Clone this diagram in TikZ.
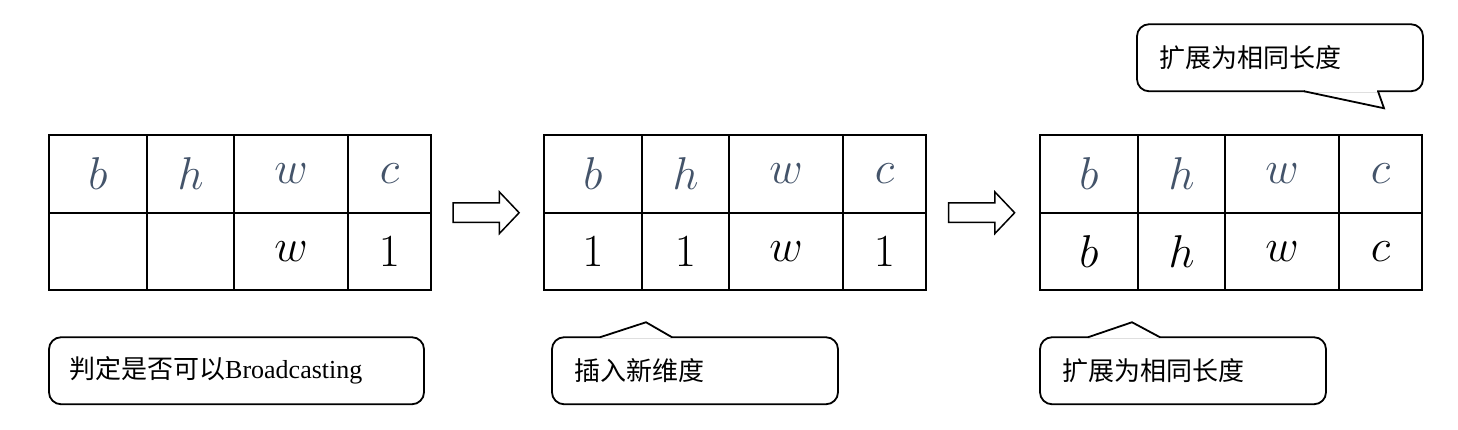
\RequirePackage{fix-cm}
\documentclass[tikz,border=0pt]{standalone}
\usepackage{fontspec}
\newfontfamily\cjk{Noto Sans CJK SC}
\newfontfamily\tnr{Liberation Serif}
\usetikzlibrary{positioning,calc,shapes.arrows}
\definecolor{hdblue}{HTML}{44546A}
\tikzset{
  cell/.style={draw, line width=1.8pt, outer sep=0pt, inner sep=0pt, minimum height=77.5pt, font=\fontsize{46}{54}\selectfont},
  hd/.style={cell, text=hdblue},
  fat arrow/.style={single arrow, draw, line width=1.5pt, minimum height=66pt, minimum width=40pt, single arrow head extend=11pt, single arrow tip angle=93, inner sep=0pt},
  note/.style={draw, line width=1.8pt, rounded corners=12pt, minimum height=67pt, outer sep=0pt, inner sep=0pt},
  note text/.style={anchor=west, inner sep=0pt, font=\fontsize{26}{30}\selectfont\cjk}
}

\begin{document}
\begin{tikzpicture}[x=1pt, y=-1pt]
        \useasboundingbox (0,0) rectangle (1458,430);

        % first table
        \node[hd, minimum width=98pt] (A1) at (98,174) {$b$};
        \node[hd, minimum width=87pt, right=0pt of A1] (A2) {$h$};
        \node[hd, minimum width=114pt, right=0pt of A2] (A3) {$w$};
        \node[hd, minimum width=83pt, right=0pt of A3] (A4) {$c$};
        \node[cell, minimum width=98pt, below=0pt of A1] (a1) {};
        \node[cell, minimum width=87pt, below=0pt of A2] (a2) {};
        \node[cell, minimum width=114pt, below=0pt of A3] (a3) {$w$};
        \node[cell, minimum width=83pt, below=0pt of A4] (a4) {$1$};

        % second table
        \node[hd, minimum width=98pt] (B1) at (593,174) {$b$};
        \node[hd, minimum width=87pt, right=0pt of B1] (B2) {$h$};
        \node[hd, minimum width=114pt, right=0pt of B2] (B3) {$w$};
        \node[hd, minimum width=83pt, right=0pt of B3] (B4) {$c$};
        \node[cell, minimum width=98pt, below=0pt of B1] (b1) {$1$};
        \node[cell, minimum width=87pt, below=0pt of B2] (b2) {$1$};
        \node[cell, minimum width=114pt, below=0pt of B3] (b3) {$w$};
        \node[cell, minimum width=83pt, below=0pt of B4] (b4) {$1$};

        % third table
        \node[hd, minimum width=98pt] (C1) at (1089,174) {$b$};
        \node[hd, minimum width=87pt, right=0pt of C1] (C2) {$h$};
        \node[hd, minimum width=114pt, right=0pt of C2] (C3) {$w$};
        \node[hd, minimum width=83pt, right=0pt of C3] (C4) {$c$};
        \node[cell, minimum width=98pt, below=0pt of C1] (c1) {$b$};
        \node[cell, minimum width=87pt, below=0pt of C2] (c2) {$h$};
        \node[cell, minimum width=114pt, below=0pt of C3] (c3) {$w$};
        \node[cell, minimum width=83pt, below=0pt of C4] (c4) {$c$};

        \node[fat arrow, xshift=-6pt] (arr1) at ($(A4.south east)!0.5!(B1.south west)$) {\rule{0pt}{18pt}};
        \node[fat arrow, xshift=-6pt] (arr2) at ($(B4.south east)!0.5!(C1.south west)$) {\rule{0pt}{18pt}};

        % notes
        \node[note, minimum width=375pt, below right=47pt and 0pt of a1.south west] (note1) {};
        \node[note text] (t1) at ([xshift=20pt]note1.west) {判定是否可以{\tnr Broadcasting}};

        \node[note, minimum width=286pt, below right=47pt and 8pt of b1.south west] (note2) {};
        \node[note text] (t2) at ([xshift=22pt]note2.west) {插入新维度};
        \fill[white] ([xshift=49pt,yshift=1.2pt]note2.north west) rectangle ([xshift=119pt,yshift=-1.2pt]note2.north west);
        \draw[line width=1.8pt] ([xshift=48pt]note2.north west) -- ([xshift=94pt,yshift=15pt]note2.north west) -- ([xshift=120pt]note2.north west);

        \node[note, minimum width=286pt, below right=47pt and 0pt of c1.south west] (note3) {};
        \node[note text] (t3) at ([xshift=22pt]note3.west) {扩展为相同长度};
        \fill[white] ([xshift=49pt,yshift=1.2pt]note3.north west) rectangle ([xshift=119pt,yshift=-1.2pt]note3.north west);
        \draw[line width=1.8pt] ([xshift=48pt]note3.north west) -- ([xshift=92pt,yshift=15pt]note3.north west) -- ([xshift=120pt]note3.north west);

        \node[note, minimum width=286pt, above left=44pt and -1pt of C4.north east] (note4) {};
        \node[note text] (t4) at ([xshift=22pt]note4.west) {扩展为相同长度};
        \fill[white] ([xshift=168pt,yshift=1.2pt]note4.south west) rectangle ([xshift=240pt,yshift=-1.2pt]note4.south west);
        \draw[line width=1.8pt] ([xshift=167pt]note4.south west) -- ([xshift=247pt,yshift=-17pt]note4.south west) -- ([xshift=241pt]note4.south west);
\end{tikzpicture}
\end{document}
